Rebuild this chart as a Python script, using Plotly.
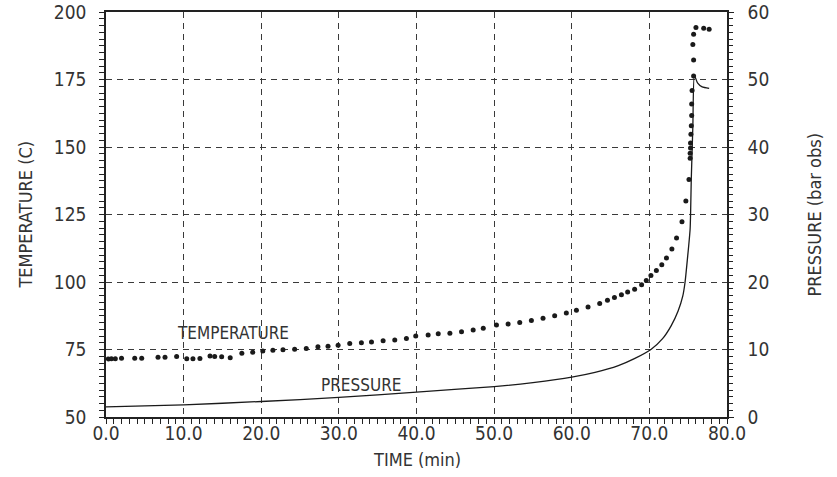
import plotly.graph_objects as go

# ---- data ----
time_temp = [0.3, 0.7, 1.2, 2.0, 3.7, 4.6, 6.7, 7.6, 9.1, 10.4, 11.2, 12.1, 13.4, 14.0, 14.9, 16.0,
             17.5, 18.9, 20.2, 21.5, 22.8, 24.3, 25.8, 27.3, 28.6, 29.9, 31.4, 32.9, 34.2, 35.7,
             37.2, 38.7, 39.9, 41.5, 42.8, 44.3, 45.8, 47.3, 48.6, 50.3, 51.8, 53.3, 54.8, 56.3,
             57.8, 59.3, 60.6, 62.1, 63.6, 64.6, 65.5, 66.4, 67.2, 68.1, 69.0, 69.6, 70.2, 70.9,
             71.6, 72.2, 72.9, 73.5, 74.2, 74.7, 75.1, 75.25, 75.25, 75.3, 75.3, 75.35, 75.4,
             75.45, 75.45, 75.5, 75.7, 75.7, 75.6, 75.7, 76.0, 77.0, 77.7]
temp_c = [71.5, 71.6, 71.6, 71.8, 71.8, 71.8, 72.1, 72.1, 72.4, 71.6, 71.6, 71.7, 72.6, 72.4, 72.3, 71.9,
          73.6, 74.0, 74.4, 74.7, 74.9, 75.1, 75.4, 76.0, 76.2, 76.6, 77.2, 77.5, 77.8, 78.2,
          78.5, 79.1, 80.0, 80.4, 80.8, 81.0, 81.6, 82.2, 82.9, 84.1, 84.4, 85.0, 85.7, 86.6,
          87.5, 88.5, 89.5, 90.7, 92.0, 93.2, 94.3, 95.3, 96.3, 97.3, 99.0, 100.6, 102.4, 104.3,
          106.4, 108.9, 112.2, 116.3, 122.3, 130.0, 138.0, 145.8, 147.7, 149.6, 151.5, 154.7, 157.9,
          161.7, 165.9, 170.9, 176.3, 182.2, 188.0, 191.8, 194.3, 194.0, 193.6]

time_pres = [0.0, 10.0, 20.0, 30.0, 40.0, 50.0, 55.0, 60.0, 63.0, 66.0, 68.0, 70.2, 71.7,
             72.8, 73.7, 74.3, 74.6, 74.9, 75.25, 75.4, 75.6, 75.8, 76.2, 76.8, 77.7]
pres_bar = [1.5, 1.8, 2.3, 2.9, 3.7, 4.5, 5.1, 5.9, 6.6, 7.6, 8.6, 10.0, 11.6,
            13.5, 15.7, 17.9, 20.0, 23.4, 27.9, 35.3, 43.0, 50.6, 49.5, 48.9, 48.7]

x_ticks = [0, 10, 20, 30, 40, 50, 60, 70, 80]
x_tick_labels = ["0.0", "10.0", "20.0", "30.0", "40.0", "50.0", "60.0", "70.0", "80.0"]
temp_ticks = [50, 75, 100, 125, 150, 175, 200]
pres_ticks = [0, 10, 20, 30, 40, 50, 60]

FONT = "DejaVu Sans Condensed, Liberation Sans Narrow, Roboto, sans-serif"
INK = "#222"
TXT = "#333333"

fig = go.Figure()
fig.add_trace(go.Scatter(x=time_temp, y=temp_c, mode="markers",
                         marker=dict(size=5, color="#1a1a1a", line=dict(width=0)),
                         yaxis="y", hoverinfo="skip"))
fig.add_trace(go.Scatter(x=time_pres, y=pres_bar, mode="lines",
                         line=dict(color="#1a1a1a", width=1.3, shape="spline", smoothing=0.6),
                         yaxis="y2", hoverinfo="skip"))

fig.update_layout(
    width=837, height=477,
    margin=dict(l=106, r=110, t=12, b=60, autoexpand=False),
    paper_bgcolor="white", plot_bgcolor="white",
    showlegend=False,
    font=dict(family=FONT, color=TXT, size=18),
    xaxis=dict(range=[x_ticks[0], x_ticks[-1]], tickvals=x_ticks, ticktext=x_tick_labels,
               automargin=False,
               ticks="outside", ticklen=5, tickcolor=INK, tickwidth=1,
               showline=True, linecolor=INK, linewidth=1.5, mirror=True,
               zeroline=False, tickfont=dict(size=19, color=TXT),
               ticklabelstandoff=-7,
               minor=dict(dtick=1, ticks="outside", ticklen=5, tickcolor=INK, tickwidth=1),
               showgrid=True, gridcolor="#3a3a3a", griddash="6px,5px"),
    yaxis=dict(range=[temp_ticks[0], temp_ticks[-1]], tickvals=temp_ticks,
               automargin=False,
               ticks="outside", ticklen=5, tickcolor=INK, tickwidth=1,
               showline=True, linecolor=INK, linewidth=1.5,
               zeroline=False, tickfont=dict(size=19, color=TXT),
               ticklabelstandoff=9,
               minor=dict(dtick=2.5, ticks="outside", ticklen=5, tickcolor=INK, tickwidth=1),
               showgrid=True, gridcolor="#3a3a3a", griddash="6px,5px"),
    yaxis2=dict(range=[pres_ticks[0], pres_ticks[-1]], tickvals=pres_ticks,
                overlaying="y", side="right", automargin=False,
                ticks="outside", ticklen=5, tickcolor=INK, tickwidth=1,
                showline=True, linecolor=INK, linewidth=1.5,
                zeroline=False, showgrid=False, tickfont=dict(size=19, color=TXT),
                ticklabelstandoff=10,
                minor=dict(dtick=1, ticks="outside", ticklen=4, tickcolor=INK, tickwidth=1)),
    annotations=[
        dict(text="TEMPERATURE", x=16.4, y=81.1, xref="x", yref="y", showarrow=False,
             xanchor="center", yanchor="middle", font=dict(size=17, color=TXT)),
        dict(text="PRESSURE", x=32.9, y=61.9, xref="x", yref="y", showarrow=False,
             xanchor="center", yanchor="middle", font=dict(size=17, color=TXT)),
        dict(text="TEMPERATURE (C)", x=-0.1304, y=0.5, xref="paper", yref="paper",
             xanchor="center", yanchor="middle",
             textangle=-90, showarrow=False, font=dict(size=18, color=TXT)),
        dict(text="PRESSURE (bar obs)", x=1.1417, y=0.5, xref="paper", yref="paper",
             xanchor="center", yanchor="middle",
             textangle=-90, showarrow=False, font=dict(size=18, color=TXT)),
        dict(text="TIME (min)", x=0.5, y=-0.106, xref="paper", yref="paper",
             xanchor="center", yanchor="middle",
             showarrow=False, font=dict(size=18, color=TXT)),
    ],
)

fig.write_html("out.html")
